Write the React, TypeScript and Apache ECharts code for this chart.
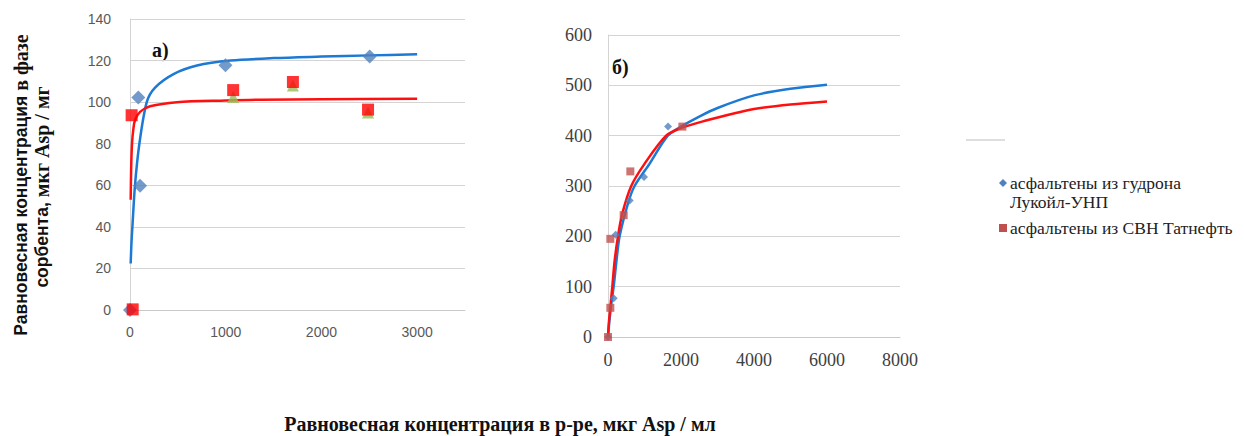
import React, { useEffect, useRef } from "react";
import * as echarts from "echarts";

// ---- Chart а) ----
const leftBlueDiamonds: number[][] = [[0, 0], [87, 102.2], [105, 59.8], [997, 117.8], [2504, 122]];
const leftRedSquares: number[][] = [[17, 93.7], [28, 0.3], [1078, 105.8], [1702, 109.7], [2487, 96.4]];
const leftGreenTriangles: number[][] = [[-25, -1.5], [1078, 102.5], [1702, 108], [2487, 95]];
const leftBlueCurve: number[][] = [
  [7, 22.4], [15, 32], [25, 40], [52, 60], [98, 80], [175, 100], [262, 107], [455, 113.5],
  [700, 117.6], [1050, 120], [1500, 121.2], [2000, 121.9], [2500, 122.5], [3000, 123],
];
const leftRedCurve: number[][] = [
  [7, 53], [12, 68], [21, 80], [35, 87], [52, 91.3], [105, 95.3], [210, 98], [490, 100],
  [1000, 100.8], [1365, 101.2], [2000, 101.4], [3000, 101.6],
];

// ---- Chart б) ----
const rightBlueDiamonds: number[][] = [[0, 0], [155, 77], [210, 203], [594, 271], [987, 318], [1645, 418]];
const rightRedSquares: number[][] = [[0, 0], [64, 58], [64, 195], [430, 242], [612, 329], [2038, 418]];
const rightBlueCurve: number[][] = [
  [0, 0], [30, 25], [80, 60], [155, 100], [230, 150], [318, 200], [546, 265], [728, 300],
  [1137, 344], [1638, 400], [2000, 418], [2500, 438], [3000, 455], [4000, 480], [5000, 493], [6000, 501],
];
const rightRedCurve: number[][] = [
  [0, 0], [20, 25], [64, 60], [118, 100], [180, 150], [273, 200], [391, 245], [637, 300],
  [1000, 344], [1592, 400], [2000, 415], [2684, 430], [3500, 445], [4000, 453], [5000, 462], [6000, 468],
];

const leftYTicks = { min: 0, max: 140, interval: 20 };
const leftXTicks = { min: 0, max: 3500, interval: 1000 };
const rightYTicks = { min: 0, max: 600, interval: 100 };
const rightXTicks = { min: 0, max: 8000, interval: 2000 };

const yTitle1Sans = "Равновесная концентрация";
const yTitle1Serif = "в фазе";
const yTitle2Sans = "сорбента,";
const yTitle2Serif = "мкг Asp / мг";
const xTitle = "Равновесная концентрация в р-ре, мкг Asp / мл";
const legendNames = ["асфальтены из гудрона", "Лукойл-УНП", "асфальтены из СВН Татнефть"];

const SERIF = "'Liberation Serif', 'Times New Roman', serif";
const SANS = "'Liberation Sans', Arial, sans-serif";

export default function App() {
  const ref = useRef<HTMLDivElement>(null);
  useEffect(() => {
    if (!ref.current) return;
    const chart = echarts.init(ref.current, undefined, { renderer: "svg" });
    const gridLine = { show: true, lineStyle: { color: "#d4d4d4", width: 1 } };
    const vAxisLine = { show: true, onZero: false, lineStyle: { color: "#d4d4d4", width: 1 } };
    const plain = (v: number) => String(v);
    const titleRich = {
      s: { fontFamily: SANS, fontSize: 17.5, fontWeight: "bold", fill: "#111" },
      t: { fontFamily: SERIF, fontSize: 20, fontWeight: "bold", fill: "#111" },
    };
    chart.setOption({
      animation: false,
      backgroundColor: "#ffffff",
      grid: [
        { left: 130, top: 19, width: 335, height: 291 },
        { left: 608, top: 35, width: 292, height: 302 },
      ],
      xAxis: [
        {
          gridIndex: 0, type: "value", ...leftXTicks,
          axisLine: { show: true, lineStyle: { color: "#c8c8c8" } },
          axisTick: { show: false }, splitLine: { show: false },
          axisLabel: { fontFamily: SANS, fontSize: 14, color: "#595959", margin: 15, showMaxLabel: false, formatter: plain },
        },
        {
          gridIndex: 1, type: "value", ...rightXTicks,
          axisLine: { show: true, lineStyle: { color: "#c8c8c8" } },
          axisTick: { show: false }, splitLine: { show: false },
          axisLabel: { fontFamily: SERIF, fontSize: 18, color: "#404040", margin: 14, formatter: plain },
        },
      ],
      yAxis: [
        {
          gridIndex: 0, type: "value", ...leftYTicks,
          axisLine: vAxisLine, axisTick: { show: false }, splitLine: gridLine,
          axisLabel: { fontFamily: SANS, fontSize: 14, color: "#595959", margin: 19, formatter: plain },
        },
        {
          gridIndex: 1, type: "value", ...rightYTicks,
          axisLine: vAxisLine, axisTick: { show: false }, splitLine: gridLine,
          axisLabel: { fontFamily: SERIF, fontSize: 18, color: "#404040", margin: 16, formatter: plain },
        },
      ],
      series: [
        {
          type: "line", xAxisIndex: 0, yAxisIndex: 0, data: leftBlueCurve, smooth: 0.3,
          showSymbol: false, lineStyle: { color: "#1c7ad4", width: 2.5 }, z: 2,
        },
        {
          type: "line", xAxisIndex: 0, yAxisIndex: 0, data: leftRedCurve, smooth: 0.3,
          showSymbol: false, lineStyle: { color: "#ff1010", width: 2.5 }, z: 2,
        },
        {
          type: "scatter", xAxisIndex: 0, yAxisIndex: 0, data: leftGreenTriangles,
          symbol: "triangle", symbolSize: 12, itemStyle: { color: "#9bbb59" }, z: 3,
        },
        {
          type: "scatter", xAxisIndex: 0, yAxisIndex: 0, data: leftBlueDiamonds,
          symbol: "diamond", symbolSize: 14, itemStyle: { color: "#4f81bd" }, z: 4,
        },
        {
          type: "scatter", xAxisIndex: 0, yAxisIndex: 0, data: leftRedSquares,
          symbol: "rect", symbolSize: 12, itemStyle: { color: "#ff0000" }, z: 5,
        },
        {
          type: "line", xAxisIndex: 1, yAxisIndex: 1, data: rightBlueCurve, smooth: 0.3,
          showSymbol: false, lineStyle: { color: "#1c7ad4", width: 2.5 }, z: 2,
        },
        {
          type: "line", xAxisIndex: 1, yAxisIndex: 1, data: rightRedCurve, smooth: 0.3,
          showSymbol: false, lineStyle: { color: "#ff1010", width: 2.5 }, z: 2,
        },
        {
          type: "scatter", xAxisIndex: 1, yAxisIndex: 1, data: rightBlueDiamonds,
          symbol: "diamond", symbolSize: 8, itemStyle: { color: "#4f81bd" }, z: 4,
        },
        {
          type: "scatter", xAxisIndex: 1, yAxisIndex: 1, data: rightRedSquares,
          symbol: "rect", symbolSize: 8, itemStyle: { color: "#c0504d" }, z: 5,
        },
      ],
      graphic: [
        {
          type: "text", x: 21, y: 185, rotation: Math.PI / 2,
          style: {
            text: `{s|${yTitle1Sans}} {t|${yTitle1Serif}}`, rich: titleRich,
            fontFamily: SERIF, fontSize: 20, fontWeight: "bold", fill: "#111",
            textAlign: "center", textVerticalAlign: "middle",
          },
        },
        {
          type: "text", x: 42, y: 187, rotation: Math.PI / 2,
          style: {
            text: `{s|${yTitle2Sans}} {t|${yTitle2Serif}}`, rich: titleRich,
            fontFamily: SERIF, fontSize: 20, fontWeight: "bold", fill: "#111",
            textAlign: "center", textVerticalAlign: "middle",
          },
        },
        {
          type: "text", x: 500, y: 424,
          style: { text: xTitle, font: `bold 20px ${SERIF}`, fill: "#111", textAlign: "center", textVerticalAlign: "middle" },
        },
        {
          type: "text", x: 152, y: 50,
          style: { text: "а)", font: `bold 20px ${SERIF}`, fill: "#111", textAlign: "left", textVerticalAlign: "middle" },
        },
        {
          type: "text", x: 612, y: 67,
          style: { text: "б)", font: `bold 20px ${SERIF}`, fill: "#111", textAlign: "left", textVerticalAlign: "middle" },
        },
        {
          type: "line", shape: { x1: 966, y1: 140, x2: 1005, y2: 140 },
          style: { stroke: "#bdbdbd", lineWidth: 1 },
        },
        {
          type: "polygon", shape: { points: [[1003, 179], [1007, 183], [1003, 187], [999, 183]] },
          style: { fill: "#4f81bd" },
        },
        {
          type: "text", x: 1010, y: 183,
          style: { text: legendNames[0], font: `17.5px ${SERIF}`, fill: "#222", textAlign: "left", textVerticalAlign: "middle" },
        },
        {
          type: "text", x: 1010, y: 202,
          style: { text: legendNames[1], font: `17.5px ${SERIF}`, fill: "#222", textAlign: "left", textVerticalAlign: "middle" },
        },
        {
          type: "rect", shape: { x: 999, y: 224, width: 8, height: 8 },
          style: { fill: "#c0504d" },
        },
        {
          type: "text", x: 1010, y: 228,
          style: { text: legendNames[2], font: `17.5px ${SERIF}`, fill: "#222", textAlign: "left", textVerticalAlign: "middle" },
        },
      ],
    });
    return () => chart.dispose();
  }, []);
  return (
    <div
      ref={ref}
      style={{ position: "fixed", left: 0, top: 0, width: 1245, height: 436, background: "#fff" }}
    />
  );
}
